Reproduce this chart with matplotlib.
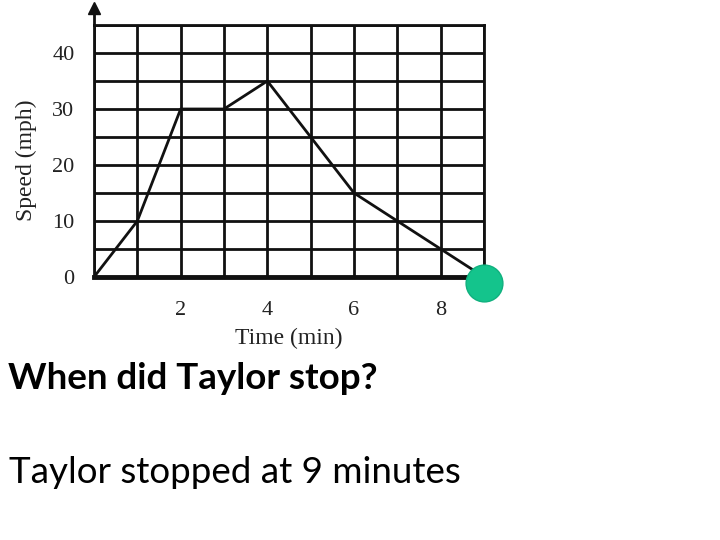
import matplotlib
matplotlib.use("Agg")
import matplotlib.pyplot as plt
import matplotlib.transforms as mtransforms

time_min = [0, 1, 2, 3, 4, 5, 6, 7, 8, 9]
speed_mph = [0, 10, 30, 30, 35, 25, 15, 10, 5, 0]
x_ticks = [0, 1, 2, 3, 4, 5, 6, 7, 8, 9]
x_labels = ['', '', '2', '', '4', '', '6', '', '8', '']
y_ticks = [0, 5, 10, 15, 20, 25, 30, 35, 40, 45]
y_labels = ['0', '', '10', '', '20', '', '30', '', '40', '']
stop_time = 9
stop_speed = -1

fig = plt.figure(figsize=(7.2, 5.4), dpi=100)
ax = fig.add_axes([94/720, 1-277/540, 390/720, 252/540])
ax.set_xlim(0, 9)
ax.set_ylim(0, 45)
ax.set_xticks(x_ticks)
ax.set_xticklabels(x_labels, fontfamily='Liberation Serif', fontsize=16, color='#222222')
ax.set_yticks(y_ticks)
ax.set_yticklabels(y_labels, fontfamily='Liberation Serif', fontsize=16, color='#222222')
shift = mtransforms.ScaledTranslation(0, -3/100, fig.dpi_scale_trans)
for lbl in ax.get_yticklabels():
    lbl.set_transform(lbl.get_transform() + shift)
ax.tick_params(length=0)
ax.tick_params(axis='x', pad=17)
ax.tick_params(axis='y', pad=14)
ax.grid(True, color='#111111', linewidth=2)
for s in ax.spines.values():
    s.set_linewidth(2)
    s.set_color('#111111')
ax.spines['bottom'].set_linewidth(3.5)

ax.plot(time_min, speed_mph, color='#111111', linewidth=2, zorder=3)

# y-axis arrow
ax.plot([0, 0], [45, 47.5], color='#111111', linewidth=2, clip_on=False)
ax.plot([0], [48], marker='^', color='#111111', markersize=8, clip_on=False)

ax.plot([stop_time], [stop_speed], 'o', color='#14c48c', markeredgecolor='#10b07e',
        markersize=26.5, clip_on=False, zorder=5)

ax.set_xlabel('Time (min)', fontfamily='Liberation Serif', fontsize=17, color='#222222', labelpad=6)
ax.set_ylabel('Speed (mph)', fontfamily='Liberation Serif', fontsize=17, color='#222222')
ax.yaxis.set_label_coords(-0.145, 0.464)

fig.text(8/720, 1-389/540, 'When did Taylor stop?', fontfamily='Lato', fontweight='bold',
         fontsize=26.5, color='black', ha='left', va='baseline')
fig.text(9/720, 1-483/540, 'Taylor stopped at 9 minutes', fontfamily='Lato',
         fontsize=26.5, color='black', ha='left', va='baseline')

fig.savefig('out.png', dpi=100)
